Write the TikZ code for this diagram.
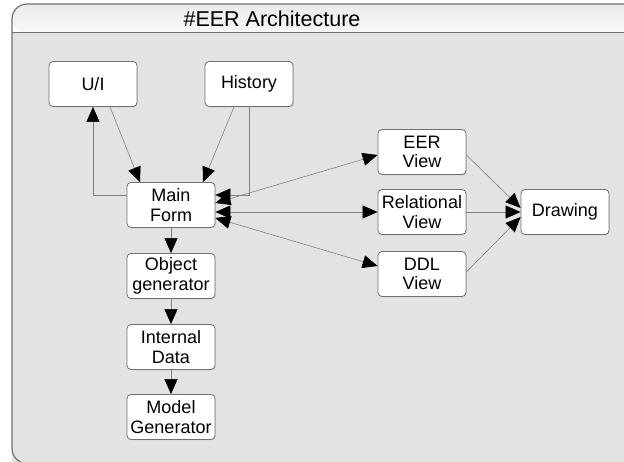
\documentclass[tikz,border=0pt]{standalone}
\usepackage{fontspec}
\setmainfont{Liberation Sans}
\usetikzlibrary{arrows.meta,shadows}
\definecolor{panel}{HTML}{E3E3E3}
\definecolor{rim}{HTML}{707070}
\definecolor{wire}{HTML}{808080}
\begin{document}
\begin{tikzpicture}[x=1pt, y=-1pt, >={Triangle[length=15pt,width=13pt,black]},
  main node/.style={rectangle,rounded corners=4pt,draw=rim,fill=white,line width=0.8pt,
    minimum width=88pt,minimum height=45pt,inner sep=1pt,align=center,
    drop shadow={opacity=0.18,shadow xshift=0.8pt,shadow yshift=-0.8pt},
    font=\fontsize{18}{19.5}\selectfont},
  link/.style={draw=wire,line width=0.6pt}]
\useasboundingbox (0,0) rectangle (624,462);
\clip (0,0) rectangle (624,462);
% frame and title bar, running off the page to the right
\fill[panel] (12,33) rectangle (700,463);
\shade[top color=gray!16, bottom color=gray!5, rounded corners=15pt] (12,33) |- (700,4) -- (700,33) -- cycle;
\draw[rim, line width=1.2pt, rounded corners=15pt] (700,463.5) -| (12,4) -- (700,4);
\draw[rim, line width=1pt] (12,33) -- (700,33);
\node[font=\fontsize{21.5}{23}\selectfont] (title) at (272,19) {\#EER Architecture};
\begin{scope}
\node[main node] (ui) at (93,84) {U/I};
\node[main node] (hist) at (249,84) {History};
\node[main node] (mf) at (171,205) {Main\\Form};
\node[main node] (og) at (171,276) {Object\\generator};
\node[main node] (idata) at (171,347) {Internal\\Data};
\node[main node] (mg) at (171,417) {Model\\Generator};
\node[main node] (eer) at (422,152) {EER\\View};
\node[main node] (rel) at (422,212) {Relational\\View};
\node[main node] (ddl) at (422,274) {DDL\\View};
\node[main node] (drw) at (565,212) {Drawing};
\end{scope}
\begin{scope}[every path/.style=link]
\draw[->] ([xshift=17pt]ui.south) -- ([xshift=-31pt]mf.north);
\draw[->] ([yshift=10pt]mf.west) -| (ui.south);
\draw[->] ([xshift=-15pt]hist.south) -- ([xshift=32pt]mf.north);
\draw[->] (hist.south) |- ([yshift=10pt]mf.east);
\draw[<->] ([yshift=2pt]mf.east) -- ([yshift=-3pt]eer.west);
\draw[<->] ([yshift=-7pt]mf.east) -- (rel.west);
\draw[<->] ([yshift=-13pt]mf.east) -- ([yshift=8pt]ddl.west);
\draw[->] ([yshift=-3pt]eer.east) -- ([yshift=4pt]drw.west);
\draw[->] (rel.east) -- (drw.west);
\draw[->] ([yshift=2pt]ddl.east) -- ([yshift=-5pt]drw.west);
\draw[->] (mf) -- (og);
\draw[->] (og) -- (idata);
\draw[->] (idata) -- (mg);
\end{scope}
\end{tikzpicture}
\end{document}
